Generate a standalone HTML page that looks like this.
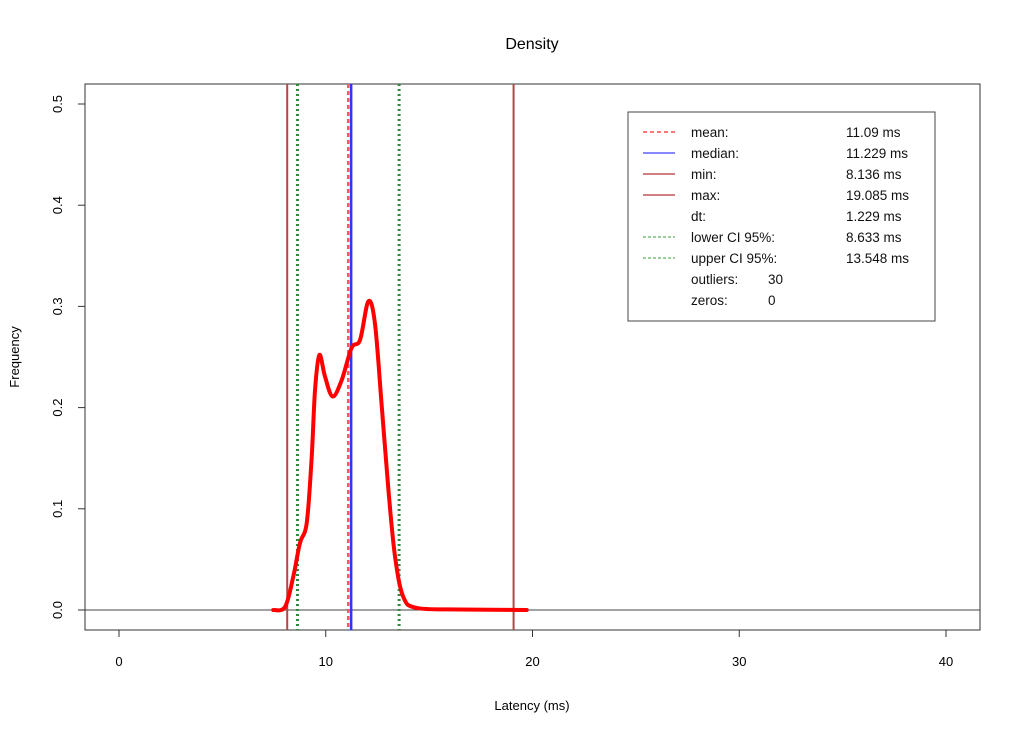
<!DOCTYPE html>
<html><head><meta charset="utf-8"><style>
html,body{margin:0;padding:0;background:#fff;}
svg{display:block;font-family:"Liberation Sans",sans-serif;}
</style></head><body>
<svg id="chart" width="1024" height="737" viewBox="0 0 1024 737" xmlns="http://www.w3.org/2000/svg">
<rect width="1024" height="737" fill="#fff"/>
<text x="532" y="49" font-size="16" text-anchor="middle" fill="#000">Density</text>
<rect x="85" y="84" width="895" height="546" fill="none" stroke="#333" stroke-width="1"/>
<text x="532" y="710" font-size="13" text-anchor="middle">Latency (ms)</text>
<text transform="translate(19,357) rotate(-90)" font-size="13" text-anchor="middle">Frequency</text>
<g id="axes"></g>
<g id="vlines"></g>
<g id="curve"></g>
<g id="legend">
<rect x="628" y="112" width="307" height="209" fill="#fff" stroke="#444" stroke-width="1"/>
</g>
</svg>
<script>
const xTicks=[0,10,20,30,40];
const yTicks=[0.0,0.1,0.2,0.3,0.4,0.5];
const yTickLabels=["0.0","0.1","0.2","0.3","0.4","0.5"];
const densX=[7.46,8.03,8.43,8.75,9.08,9.32,9.48,9.69,9.96,10.33,10.77,11.25,11.66,12.06,12.38,12.71,13.03,13.35,13.75,14.4,16.5,19.72];
const densY=[0,0.003,0.033,0.066,0.086,0.151,0.217,0.252,0.231,0.211,0.227,0.259,0.267,0.305,0.283,0.201,0.119,0.053,0.013,0.002,0.0005,0];
const statNames=["mean","median","min","max","lowerCI","upperCI"];
const statValues=[11.09,11.229,8.136,19.085,8.633,13.548];
const legendLabels=["mean:","median:","min:","max:","dt:","lower CI 95%:","upper CI 95%:","outliers:","zeros:"];
const legendValues=["11.09 ms","11.229 ms","8.136 ms","19.085 ms","1.229 ms","8.633 ms","13.548 ms","30","0"];

const NS="http://www.w3.org/2000/svg";
const xs=v=>119+v*20.675;
const ys=v=>610-v*1012;
function mk(tag,attrs,parent){const e=document.createElementNS(NS,tag);for(const k in attrs)e.setAttribute(k,attrs[k]);parent.appendChild(e);return e;}
const axes=document.getElementById('axes');
let xl=mk('line',{x1:xs(0),x2:xs(40),y1:630,y2:630,stroke:'#333'},axes);


xTicks.forEach(t=>{
 const tk=mk('line',{x1:xs(t),x2:xs(t),y1:630,y2:637,stroke:'#333'},axes);
 
 
 const tx=mk('text',{x:xs(t),y:666,'font-size':13,'text-anchor':'middle'},axes);
 tx.textContent=String(t);
 
 
});
let yl=mk('line',{x1:85,x2:85,y1:ys(0),y2:ys(0.5),stroke:'#333'},axes);


yTicks.forEach((t,i)=>{
 const tk=mk('line',{x1:78,x2:85,y1:ys(t),y2:ys(t),stroke:'#333'},axes);
 
 
 const tx=mk('text',{transform:`translate(62,${ys(t)}) rotate(-90)`,'font-size':13,'text-anchor':'middle'},axes);
 tx.textContent=yTickLabels[i];
 
 
});
let zl=mk('line',{x1:85,x2:980,y1:ys(0),y2:ys(0),stroke:'#444'},axes);



const styles={mean:{c:'#ff5555',d:'4,3',w:2.5},median:{c:'#3333ff',d:'',w:2.5},min:{c:'#b04848',d:'',w:2},max:{c:'#b04848',d:'',w:2},lowerCI:{c:'#2e8b3a',d:'2,3',w:3},upperCI:{c:'#2e8b3a',d:'2,3',w:3}};
const vg=document.getElementById('vlines');
const order=[2,3,4,5,1,0];
order.forEach(i=>{
 const s=styles[statNames[i]];
 const l=mk('line',{x1:xs(statValues[i]),x2:xs(statValues[i]),y1:84,y2:630,stroke:s.c,'stroke-width':s.w,'stroke-dasharray':s.d},vg);
 
 
});
const pts=densX.map((x,i)=>[xs(x),ys(densY[i])]);
let d=`M${pts[0][0]},${pts[0][1]}`;
for(let i=0;i<pts.length-1;i++){
 const p0=pts[Math.max(0,i-1)],p1=pts[i],p2=pts[i+1],p3=pts[Math.min(pts.length-1,i+2)];
 d+=` C${p1[0]+(p2[0]-p0[0])/6},${p1[1]+(p2[1]-p0[1])/6} ${p2[0]-(p3[0]-p1[0])/6},${p2[1]-(p3[1]-p1[1])/6} ${p2[0]},${p2[1]}`;
}
const cp=mk('path',{d:d,fill:'none',stroke:'#ff0000','stroke-width':4,'stroke-linejoin':'round','stroke-linecap':'round'},document.getElementById('curve'));



const lg=document.getElementById('legend');
const legStyle=[styles.mean,styles.median,styles.min,styles.max,null,{c:'#9ccf9c',d:'3,2',w:2},{c:'#9ccf9c',d:'3,2',w:2},null,null];
legendLabels.forEach((lab,i)=>{
 const y=132+i*21;
 const s=legStyle[i];
 if(s){
  const l=mk('line',{x1:643,x2:675,y1:y,y2:y,stroke:s===styles.mean?'#ff7777':(s===styles.median?'#8888ff':(s===styles.min||s===styles.max?'#d08080':s.c)),'stroke-width':2,'stroke-dasharray':s.d},lg);
  
  
 }
 const t=mk('text',{x:691,y:y+5,'font-size':13.5,fill:'#111'},lg);
 t.textContent=lab;
 
 
 const vx=i>=7?768:846;
 const v=mk('text',{x:vx,y:y+5,'font-size':13.5,fill:'#111'},lg);
 v.textContent=legendValues[i];
 
 
});
</script>
</body></html>
